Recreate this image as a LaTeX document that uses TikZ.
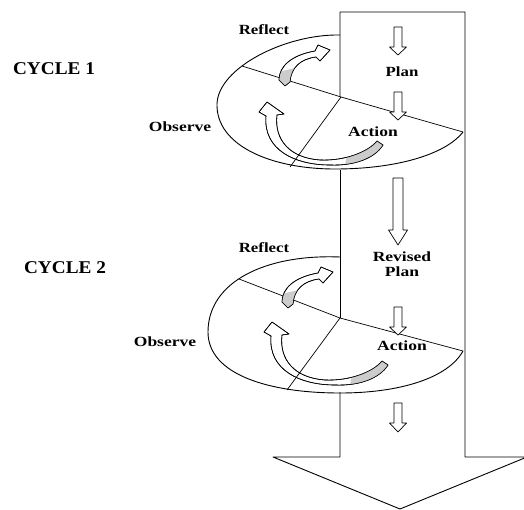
\documentclass[tikz,border=0pt]{standalone}
\usepackage{fontspec}
\setmainfont{Liberation Serif}
\usepackage{graphicx}
\newcommand\blockarr[6]{%
  \draw[blockarr] ({#1-#5},#2) -- ({#1+#5},#2) -- ({#1+#5},#3) -- ({#1+#6},#3) -- (#1,#4) -- ({#1-#6},#3) -- ({#1-#5},#3) -- cycle;}
\newcommand\reflribbon{%
  \filldraw[ribbon] (279,80) .. controls (279,66) and (292,55) .. (315,51) -- (318,45) -- (330,50) -- (320,61) -- (316,57) .. controls (300,59) and (291,68) .. (290,82) -- (285,86) -- cycle;
  \begin{scope}
    \clip (279,80) .. controls (279,66) and (292,55) .. (315,51) -- (318,45) -- (330,50) -- (320,61) -- (316,57) .. controls (300,59) and (291,68) .. (290,82) -- (285,86) -- cycle;
    \fill[ribgray] (270,74) -- (295,68) -- (295,95) -- (270,95) -- cycle;
  \end{scope}
  \draw[ribbon,fill=none] (279,80) .. controls (279,66) and (292,55) .. (315,51) -- (318,45) -- (330,50) -- (320,61) -- (316,57) .. controls (300,59) and (291,68) .. (290,82) -- (285,86) -- cycle;}
\newcommand\obsribbon{%
  \filldraw[ribbon] (267,102) -- (284,114) -- (277,115) .. controls (274,140) and (290,158) .. (320,160) .. controls (345,161) and (368,152) .. (377,141) -- (383,145) .. controls (375,158) and (355,166) .. (330,165) .. controls (295,165) and (263,150) .. (266,116) -- (259,112) -- cycle;
  \begin{scope}
    \clip (267,102) -- (284,114) -- (277,115) .. controls (274,140) and (290,158) .. (320,160) .. controls (345,161) and (368,152) .. (377,141) -- (383,145) .. controls (375,158) and (355,166) .. (330,165) .. controls (295,165) and (263,150) .. (266,116) -- (259,112) -- cycle;
    \fill[ribgray] (343,175) -- (348,150) -- (395,128) -- (395,175) -- cycle;
  \end{scope}
  \draw[ribbon,fill=none] (267,102) -- (284,114) -- (277,115) .. controls (274,140) and (290,158) .. (320,160) .. controls (345,161) and (368,152) .. (377,141) -- (383,145) .. controls (375,158) and (355,166) .. (330,165) .. controls (295,165) and (263,150) .. (266,116) -- (259,112) -- cycle;}
\begin{document}
\begin{tikzpicture}[x=1pt,y=-1pt,line join=round,
  edge/.style={line width=0.9pt},
  chord/.style={line width=0.7pt},
  ribbon/.style={line width=0.6pt,fill=white},
  ribgray/.style={fill=gray!40},
  blockarr/.style={line width=0.7pt,fill=white},
  lbl/.style={font=\fontsize{14}{16}\selectfont\bfseries,inner sep=0pt},
  cyc/.style={font=\fontsize{18}{20}\selectfont\bfseries,inner sep=0pt}]
\useasboundingbox (0,0) rectangle (524,510);
% main big arrow (box)
\draw[edge] (340,97) -- (340,12) -- (465,12) -- (465,457) -- (527,457) -- (400,509) -- (273,457) -- (340,457) -- (340,392);
\draw[edge] (340,170) -- (340,318);
% ellipse 1
\draw[edge] (340,35) .. controls (285,34) and (218,68) .. (217,104)
  .. controls (216,145) and (270,169) .. (335,169)
  .. controls (395,169) and (445,155) .. (463,132);
\coordinate (c1) at (341,97);
\coordinate (l1) at (242,66);
\coordinate (r1) at (463,132);
\coordinate (b1) at (290,167);
\draw[chord] (l1) -- (c1) -- (r1);
% ellipse 2
\draw[edge] (340,257) .. controls (265,254) and (208,282) .. (208,332)
  .. controls (208,375) and (270,393) .. (340,393)
  .. controls (400,393) and (448,378) .. (463,351);
\coordinate (c2) at (340,318);
\coordinate (l2) at (239,279);
\coordinate (r2) at (463,351);
\coordinate (b2) at (287,390);
\draw[chord] (l2) -- (c2) -- (r2);
% ribbons cycle 1
\reflribbon
\obsribbon
\draw[chord] (c1) -- (b1);
% ribbons cycle 2
\begin{scope}[shift={(3,222)}]
\reflribbon
\end{scope}
\begin{scope}[shift={(5,220)}]
\obsribbon
\end{scope}
\draw[chord] (c2) -- (b2);
% block arrows
\blockarr{398}{27}{47}{55}{4}{8.5}
\blockarr{398}{92}{112}{120}{4}{8.5}
\blockarr{398}{178}{230}{245}{5}{9.5}
\blockarr{398}{307}{327}{335}{4}{8.5}
\blockarr{398}{403}{423}{432}{4}{8.5}
% labels
\node[cyc] (cyc1) at (54,69) {\scalebox{1.07}[1]{CYCLE 1}};
\node[cyc] (cyc2) at (65,268) {\scalebox{1.07}[1]{CYCLE 2}};
\node[lbl] (refl1) at (264,30) {\scalebox{1.2}[1]{Reflect}};
\node[lbl] (refl2) at (264,248) {\scalebox{1.2}[1]{Reflect}};
\node[lbl] (obs1) at (180,127) {\scalebox{1.25}[1]{Observe}};
\node[lbl] (obs2) at (165,342) {\scalebox{1.25}[1]{Observe}};
\node[lbl] (plan) at (402,72) {\scalebox{1.2}[1]{Plan}};
\node[lbl] (act1) at (373,132) {\scalebox{1.25}[1]{Action}};
\node[lbl,align=center] (rplan) at (402,264) {\scalebox{1.25}[1]{Revised}\\[-1pt]\scalebox{1.25}[1]{Plan}};
\node[lbl] (act2) at (402,346) {\scalebox{1.25}[1]{Action}};
\end{tikzpicture}
\end{document}
